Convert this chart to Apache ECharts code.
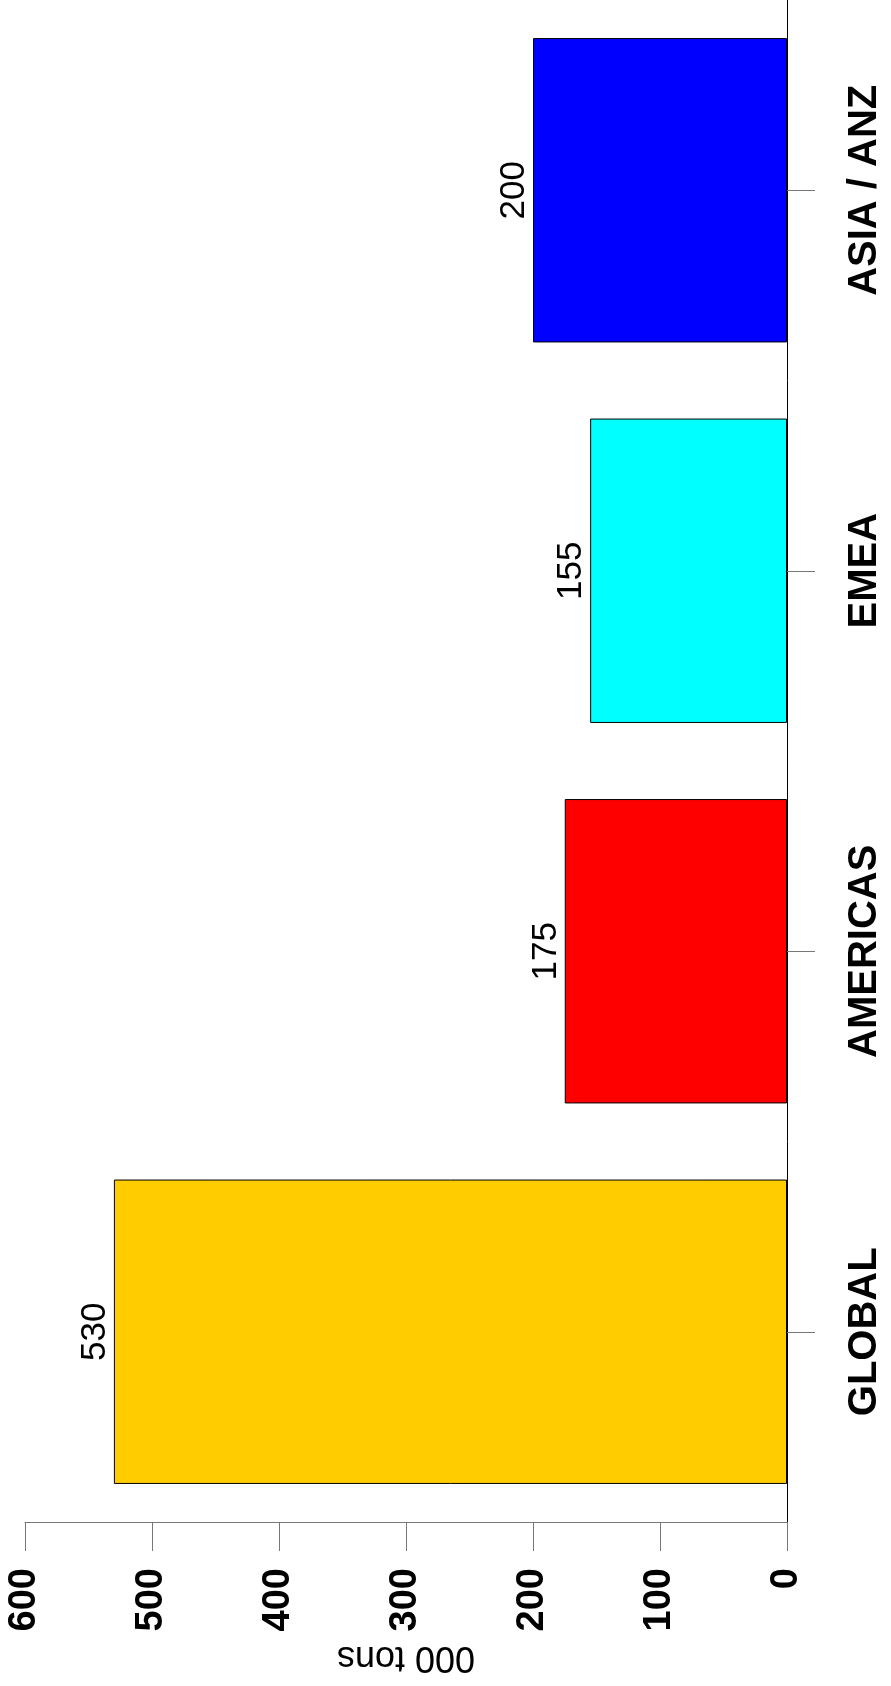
<!DOCTYPE html>
<html>
<head>
<meta charset="utf-8">
<script src="https://cdn.jsdelivr.net/npm/echarts@6/dist/echarts.min.js"></script>
<style>
  html, body { margin: 0; padding: 0; background: #fff; }
  #chart { width: 891px; height: 1686px; }
</style>
</head>
<body>
<div id="chart"></div>
<script>
// Regional volumes, thousand tons
const categories = ['GLOBAL', 'AMERICAS', 'EMEA', 'ASIA / ANZ'];
const values = [530, 175, 155, 200];
const barColors = ['#FFCC00', '#FF0000', '#00FFFF', '#0000FF'];
const valueTicks = [0, 100, 200, 300, 400, 500, 600];
const axisTitle = '000 tons';

const sans = '"Liberation Sans", Arial, sans-serif';

const chart = echarts.init(document.getElementById('chart'), null, { renderer: 'canvas' });

chart.setOption({
  backgroundColor: '#ffffff',
  animation: false,
  grid: { left: 25, right: 104, top: 0, bottom: 164, containLabel: false },
  xAxis: {
    type: 'value',
    inverse: true,
    position: 'bottom',
    min: valueTicks[0],
    max: valueTicks[valueTicks.length - 1],
    interval: valueTicks[1] - valueTicks[0],
    name: axisTitle,
    nameLocation: 'middle',
    nameGap: 133,
    nameRotate: 180,
    nameTextStyle: {
      fontFamily: sans, fontSize: 36, color: '#000',
      align: 'center', verticalAlign: 'middle'
    },
    splitLine: { show: false },
    axisLine: { show: true, onZero: false, lineStyle: { color: '#777', width: 1 } },
    axisTick: { show: true, length: 29, lineStyle: { color: '#777', width: 1 } },
    axisLabel: {
      rotate: 90, margin: 46,
      align: 'right', verticalAlign: 'middle',
      fontFamily: sans, fontSize: 38, fontWeight: 'bold', color: '#000'
    }
  },
  yAxis: {
    type: 'category',
    position: 'right',
    data: categories,
    axisLine: { show: true, onZero: false, lineStyle: { color: '#000', width: 1 } },
    axisTick: { show: true, alignWithLabel: true, length: 28, lineStyle: { color: '#777', width: 1 } },
    splitLine: { show: false },
    axisLabel: {
      rotate: 90, margin: 58,
      align: 'center', verticalAlign: 'top',
      fontFamily: sans, fontSize: 40, fontWeight: 'bold', color: '#000'
    }
  },
  series: [{
    type: 'bar',
    barWidth: '80%',
    data: values.map((v, i) => ({
      value: v,
      itemStyle: { color: barColors[i], borderColor: '#000', borderWidth: 1 }
    })),
    label: {
      show: true,
      position: 'left',
      distance: 1,
      rotate: 90,
      align: 'center',
      verticalAlign: 'bottom',
      fontFamily: sans,
      fontSize: 35,
      color: '#000'
    }
  }]
});
</script>
</body>
</html>
